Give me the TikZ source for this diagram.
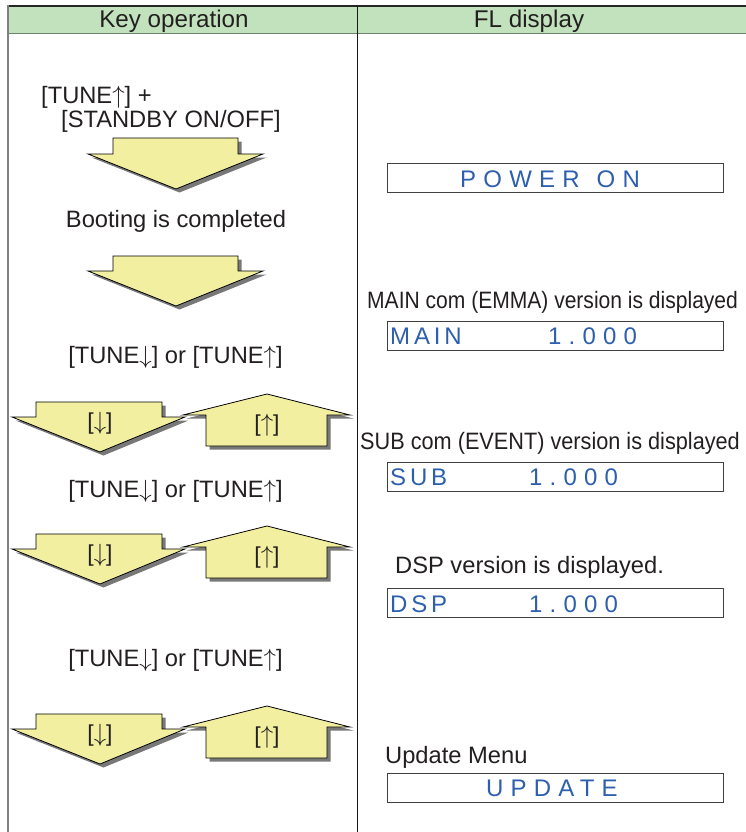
\documentclass[tikz,border=0pt]{standalone}
\usepackage{fontspec}
\setmainfont{Liberation Sans}
\newfontfamily\dispfont[LetterSpace=16]{Liberation Sans}
\newfontfamily\dispwide[LetterSpace=30]{Liberation Sans}
\newfontfamily\narrowfont[FakeStretch=0.915]{Liberation Sans}
\newfontfamily\narrowerfont[FakeStretch=0.888]{Liberation Sans}
\definecolor{hdrgreen}{RGB}{194,226,190}
\definecolor{hdrline}{RGB}{110,128,110}
\definecolor{arryellow}{RGB}{242,239,160}
\definecolor{arrshade}{RGB}{120,120,120}
\definecolor{ink}{RGB}{35,31,32}
\definecolor{lcdblue}{RGB}{45,95,175}
\newcommand\ArrShape[8]{%
  \fill[arrshadow] (#1,#3) -- (#2,#3) -- (#2,#4) -- (#6,#4) -- (#7,#8) -- (#5,#4) -- (#1,#4) -- cycle;
  \filldraw[arrbody] (#1,#3) -- (#2,#3) -- (#2,#4) -- (#6,#4) -- (#7,#8) -- (#5,#4) -- (#1,#4) -- cycle;}
\newcommand\UpA{$\uparrow$}
\newcommand\DnA{$\downarrow$}
\begin{document}
\begin{tikzpicture}[x=1pt,y=-1pt,
  arrshadow/.style={fill=arrshade,shift={(3.5,3.5)}},
  arrbody/.style={fill=arryellow,draw=black,line width=0.8pt,line join=miter},
  txt/.style={inner sep=0pt,anchor=base west,text=ink,font=\fontsize{23.7}{28}\selectfont},
  ctxt/.style={txt,anchor=base},
  ntxt/.style={txt,font={\narrowfont\fontsize{23.7}{28}\selectfont}},
  nntxt/.style={txt,font={\narrowerfont\fontsize{23.7}{28}\selectfont}},
  htxt/.style={ctxt,font=\fontsize{24.2}{28}\selectfont},
  lbl/.style={inner sep=0pt,text=ink,font=\fontsize{23}{27}\selectfont},
  dbox/.style={draw=black!75,line width=1pt,minimum width=336pt,minimum height=29pt,inner sep=0pt},
  dtxt/.style={inner sep=0pt,anchor=base west,text=lcdblue,font={\dispfont\fontsize{24}{28}\selectfont}}]
\useasboundingbox (0,0) rectangle (746,832);
% table frame
\fill[hdrgreen] (8,6) rectangle (746,33);
\draw[black!85,line width=1.2pt] (8,6) -- (746,6);
\draw[hdrline,line width=1.6pt] (8,33.5) -- (746,33.5);
\draw[black!50,line width=2pt] (8,5.4) -- (8,832);
\draw[black!90,line width=1pt] (357,6) -- (357,832);
\node[htxt] (hdrL) at (174,28) {Key operation};
\node[htxt] (hdrR) at (529,28) {FL display};
% left column texts
\node[txt] (t1) at (41,103) {[TUNE\UpA] +};
\node[txt] (t2) at (61,128) {[STANDBY ON/OFF]};
\node[ctxt] (boot) at (176,227) {Booting is completed};
\node[ctxt] (tn1) at (175.5,363) {[TUNE\DnA] or [TUNE\UpA]};
\node[ctxt] (tn2) at (175.5,497) {[TUNE\DnA] or [TUNE\UpA]};
\node[ctxt] (tn3) at (175.5,666) {[TUNE\DnA] or [TUNE\UpA]};
% single arrows
\ArrShape{113}{238}{138}{154}{88}{263}{176}{189}
\ArrShape{113}{238}{256}{271}{88}{263}{176}{306}
% arrow pairs
\foreach \dy/\k in {0/1,132/2,312/3}{
  \ArrShape{36}{162}{402+\dy}{417+\dy}{12}{185}{100}{452+\dy}
  \ArrShape{206}{327}{446+\dy}{415+\dy}{183}{350}{267}{394+\dy}
  \node[lbl] (dn\k) at (100,423+\dy) {[\DnA]};
  \node[lbl] (up\k) at (267,425+\dy) {[\UpA]};
}
% right column
\node[dbox] (bPow) at (555,178) {};
\node[dtxt] (tPow) at (460,187) {{\dispwide POWER}\hspace{17pt}{\dispwide ON}};
\node[nntxt] (lMain) at (367,308) {MAIN com (EMMA) version is displayed};
\node[dbox] (bMain) at (555,336) {};
\node[dtxt] (tMain) at (390,344) {\makebox[158pt][l]{MAIN}{\dispwide 1.000}};
\node[ntxt] (lSub) at (360,449) {SUB com (EVENT) version is displayed};
\node[dbox] (bSub) at (555,477) {};
\node[dtxt] (tSub) at (390,485) {\makebox[139pt][l]{SUB}{\dispwide 1.000}};
\node[txt] (lDsp) at (395,573) {DSP version is displayed.};
\node[dbox] (bDsp) at (555,602.5) {};
\node[dtxt] (tDsp) at (390,612) {\makebox[139pt][l]{DSP}{\dispwide 1.000}};
\node[txt] (lUpd) at (385,763) {Update Menu};
\node[dbox] (bUpd) at (555,787.5) {};
\node[dtxt] (tUpd) at (486,796) {{\dispwide UPDATE}};
\end{tikzpicture}
\end{document}
